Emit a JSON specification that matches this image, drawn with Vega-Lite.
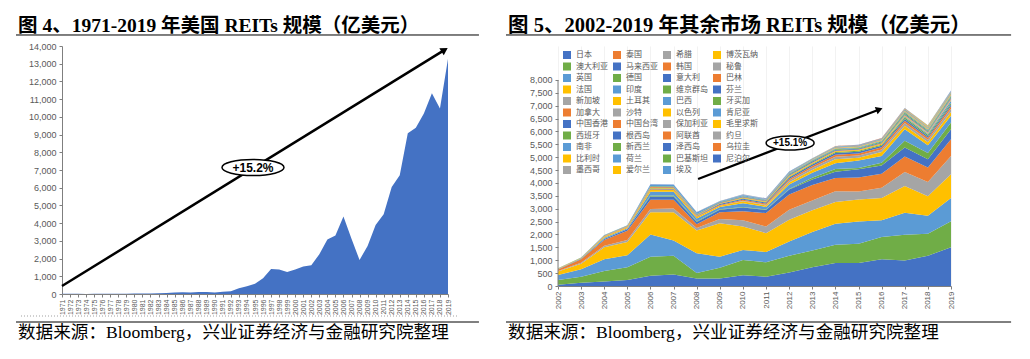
{
"$schema":"https://vega.github.io/schema/vega-lite/v6.json",
"background":"white",
"padding":{"left":15,"top":15,"right":0,"bottom":0},
"autosize":{"type":"pad"},
"config":{"view":{"stroke":null},"axis":{"labelFont":"Liberation Sans","labelColor":"#595959","domainColor":"#7f7f7f","tickColor":"#7f7f7f","grid":false,"title":null}},
"datasets":{
"us":[{"year":1971,"v":15},{"year":1972,"v":19},{"year":1973,"v":14},{"year":1974,"v":7},{"year":1975,"v":9},{"year":1976,"v":11},{"year":1977,"v":13},{"year":1978,"v":14},{"year":1979,"v":18},{"year":1980,"v":23},{"year":1981,"v":24},{"year":1982,"v":33},{"year":1983,"v":45},{"year":1984,"v":58},{"year":1985,"v":78},{"year":1986,"v":97},{"year":1987,"v":90},{"year":1988,"v":112},{"year":1989,"v":117},{"year":1990,"v":87},{"year":1991,"v":130},{"year":1992,"v":158},{"year":1993,"v":322},{"year":1994,"v":441},{"year":1995,"v":578},{"year":1996,"v":888},{"year":1997,"v":1407},{"year":1998,"v":1384},{"year":1999,"v":1243},{"year":2000,"v":1390},{"year":2001,"v":1547},{"year":2002,"v":1617},{"year":2003,"v":2245},{"year":2004,"v":3075},{"year":2005,"v":3309},{"year":2006,"v":4382},{"year":2007,"v":3120},{"year":2008,"v":1919},{"year":2009,"v":2713},{"year":2010,"v":3893},{"year":2011,"v":4508},{"year":2012,"v":6037},{"year":2013,"v":6707},{"year":2014,"v":9072},{"year":2015,"v":9390},{"year":2016,"v":10186},{"year":2017,"v":11336},{"year":2018,"v":10476},{"year":2019,"v":13285}],
"series":[{"c":"日本","k":0},{"c":"澳大利亚","k":1},{"c":"英国","k":2},{"c":"法国","k":3},{"c":"新加坡","k":4},{"c":"加拿大","k":5},{"c":"中国香港","k":6},{"c":"西班牙","k":7},{"c":"南非","k":8},{"c":"比利时","k":9},{"c":"墨西哥","k":10},{"c":"泰国","k":11},{"c":"马来西亚","k":12},{"c":"德国","k":13},{"c":"印度","k":14},{"c":"土耳其","k":15},{"c":"沙特","k":16},{"c":"中国台湾","k":17},{"c":"根西岛","k":18},{"c":"新西兰","k":19},{"c":"荷兰","k":20},{"c":"爱尔兰","k":21},{"c":"希腊","k":22},{"c":"韩国","k":23},{"c":"意大利","k":24},{"c":"维京群岛","k":25},{"c":"巴西","k":26},{"c":"以色列","k":27},{"c":"保加利亚","k":28},{"c":"阿联酋","k":29},{"c":"泽西岛","k":30},{"c":"巴基斯坦","k":31},{"c":"埃及","k":32},{"c":"博茨瓦纳","k":33},{"c":"秘鲁","k":34},{"c":"巴林","k":35},{"c":"芬兰","k":36},{"c":"牙买加","k":37},{"c":"肯尼亚","k":38},{"c":"毛里求斯","k":39},{"c":"约旦","k":40},{"c":"乌拉圭","k":41},{"c":"尼泊尔","k":42}],
"other":[
{"year":2002,"c":"日本","v":50},{"year":2003,"c":"日本","v":130},{"year":2004,"c":"日本","v":170},{"year":2005,"c":"日本","v":230},{"year":2006,"c":"日本","v":400},{"year":2007,"c":"日本","v":450},{"year":2008,"c":"日本","v":290},{"year":2009,"c":"日本","v":290},{"year":2010,"c":"日本","v":420},{"year":2011,"c":"日本","v":360},{"year":2012,"c":"日本","v":520},{"year":2013,"c":"日本","v":730},{"year":2014,"c":"日本","v":890},{"year":2015,"c":"日本","v":890},{"year":2016,"c":"日本","v":1040},{"year":2017,"c":"日本","v":990},{"year":2018,"c":"日本","v":1170},{"year":2019,"c":"日本","v":1500},
{"year":2002,"c":"澳大利亚","v":180},{"year":2003,"c":"澳大利亚","v":230},{"year":2004,"c":"澳大利亚","v":415},{"year":2005,"c":"澳大利亚","v":500},{"year":2006,"c":"澳大利亚","v":740},{"year":2007,"c":"澳大利亚","v":720},{"year":2008,"c":"澳大利亚","v":210},{"year":2009,"c":"澳大利亚","v":420},{"year":2010,"c":"澳大利亚","v":590},{"year":2011,"c":"澳大利亚","v":560},{"year":2012,"c":"澳大利亚","v":650},{"year":2013,"c":"澳大利亚","v":650},{"year":2014,"c":"澳大利亚","v":710},{"year":2015,"c":"澳大利亚","v":750},{"year":2016,"c":"澳大利亚","v":860},{"year":2017,"c":"澳大利亚","v":1000},{"year":2018,"c":"澳大利亚","v":860},{"year":2019,"c":"澳大利亚","v":1010},
{"year":2002,"c":"英国","v":200},{"year":2003,"c":"英国","v":290},{"year":2004,"c":"英国","v":455},{"year":2005,"c":"英国","v":460},{"year":2006,"c":"英国","v":860},{"year":2007,"c":"英国","v":600},{"year":2008,"c":"英国","v":770},{"year":2009,"c":"英国","v":430},{"year":2010,"c":"英国","v":390},{"year":2011,"c":"英国","v":400},{"year":2012,"c":"英国","v":560},{"year":2013,"c":"英国","v":720},{"year":2014,"c":"英国","v":820},{"year":2015,"c":"英国","v":860},{"year":2016,"c":"英国","v":650},{"year":2017,"c":"英国","v":850},{"year":2018,"c":"英国","v":700},{"year":2019,"c":"英国","v":910},
{"year":2002,"c":"法国","v":130},{"year":2003,"c":"法国","v":210},{"year":2004,"c":"法国","v":460},{"year":2005,"c":"法国","v":520},{"year":2006,"c":"法国","v":860},{"year":2007,"c":"法国","v":1090},{"year":2008,"c":"法国","v":890},{"year":2009,"c":"法国","v":1300},{"year":2010,"c":"法国","v":910},{"year":2011,"c":"法国","v":730},{"year":2012,"c":"法国","v":840},{"year":2013,"c":"法国","v":840},{"year":2014,"c":"法国","v":840},{"year":2015,"c":"法国","v":860},{"year":2016,"c":"法国","v":870},{"year":2017,"c":"法国","v":1040},{"year":2018,"c":"法国","v":760},{"year":2019,"c":"法国","v":920},
{"year":2002,"c":"新加坡","v":20},{"year":2003,"c":"新加坡","v":40},{"year":2004,"c":"新加坡","v":60},{"year":2005,"c":"新加坡","v":80},{"year":2006,"c":"新加坡","v":130},{"year":2007,"c":"新加坡","v":150},{"year":2008,"c":"新加坡","v":90},{"year":2009,"c":"新加坡","v":160},{"year":2010,"c":"新加坡","v":240},{"year":2011,"c":"新加坡","v":260},{"year":2012,"c":"新加坡","v":390},{"year":2013,"c":"新加坡","v":380},{"year":2014,"c":"新加坡","v":420},{"year":2015,"c":"新加坡","v":310},{"year":2016,"c":"新加坡","v":400},{"year":2017,"c":"新加坡","v":550},{"year":2018,"c":"新加坡","v":550},{"year":2019,"c":"新加坡","v":710},
{"year":2002,"c":"加拿大","v":60},{"year":2003,"c":"加拿大","v":140},{"year":2004,"c":"加拿大","v":230},{"year":2005,"c":"加拿大","v":360},{"year":2006,"c":"加拿大","v":360},{"year":2007,"c":"加拿大","v":340},{"year":2008,"c":"加拿大","v":150},{"year":2009,"c":"加拿大","v":260},{"year":2010,"c":"加拿大","v":350},{"year":2011,"c":"加拿大","v":520},{"year":2012,"c":"加拿大","v":590},{"year":2013,"c":"加拿大","v":600},{"year":2014,"c":"加拿大","v":510},{"year":2015,"c":"加拿大","v":540},{"year":2016,"c":"加拿大","v":540},{"year":2017,"c":"加拿大","v":600},{"year":2018,"c":"加拿大","v":560},{"year":2019,"c":"加拿大","v":650},
{"year":2002,"c":"中国香港","v":10},{"year":2003,"c":"中国香港","v":15},{"year":2004,"c":"中国香港","v":40},{"year":2005,"c":"中国香港","v":50},{"year":2006,"c":"中国香港","v":130},{"year":2007,"c":"中国香港","v":130},{"year":2008,"c":"中国香港","v":90},{"year":2009,"c":"中国香港","v":100},{"year":2010,"c":"中国香港","v":150},{"year":2011,"c":"中国香港","v":120},{"year":2012,"c":"中国香港","v":200},{"year":2013,"c":"中国香港","v":220},{"year":2014,"c":"中国香港","v":250},{"year":2015,"c":"中国香港","v":320},{"year":2016,"c":"中国香港","v":320},{"year":2017,"c":"中国香港","v":350},{"year":2018,"c":"中国香港","v":320},{"year":2019,"c":"中国香港","v":390},
{"year":2004,"c":"西班牙","v":5},{"year":2005,"c":"西班牙","v":5},{"year":2006,"c":"西班牙","v":30},{"year":2007,"c":"西班牙","v":30},{"year":2008,"c":"西班牙","v":20},{"year":2009,"c":"西班牙","v":20},{"year":2010,"c":"西班牙","v":20},{"year":2011,"c":"西班牙","v":20},{"year":2012,"c":"西班牙","v":20},{"year":2013,"c":"西班牙","v":60},{"year":2014,"c":"西班牙","v":100},{"year":2015,"c":"西班牙","v":50},{"year":2016,"c":"西班牙","v":110},{"year":2017,"c":"西班牙","v":260},{"year":2018,"c":"西班牙","v":240},{"year":2019,"c":"西班牙","v":260},
{"year":2002,"c":"南非","v":10},{"year":2003,"c":"南非","v":15},{"year":2004,"c":"南非","v":40},{"year":2005,"c":"南非","v":40},{"year":2006,"c":"南非","v":150},{"year":2007,"c":"南非","v":150},{"year":2008,"c":"南非","v":110},{"year":2009,"c":"南非","v":90},{"year":2010,"c":"南非","v":140},{"year":2011,"c":"南非","v":100},{"year":2012,"c":"南非","v":170},{"year":2013,"c":"南非","v":200},{"year":2014,"c":"南非","v":230},{"year":2015,"c":"南非","v":290},{"year":2016,"c":"南非","v":260},{"year":2017,"c":"南非","v":450},{"year":2018,"c":"南非","v":310},{"year":2019,"c":"南非","v":260},
{"year":2002,"c":"比利时","v":10},{"year":2003,"c":"比利时","v":15},{"year":2004,"c":"比利时","v":40},{"year":2005,"c":"比利时","v":40},{"year":2006,"c":"比利时","v":80},{"year":2007,"c":"比利时","v":70},{"year":2008,"c":"比利时","v":60},{"year":2009,"c":"比利时","v":50},{"year":2010,"c":"比利时","v":80},{"year":2011,"c":"比利时","v":60},{"year":2012,"c":"比利时","v":80},{"year":2013,"c":"比利时","v":100},{"year":2014,"c":"比利时","v":150},{"year":2015,"c":"比利时","v":110},{"year":2016,"c":"比利时","v":150},{"year":2017,"c":"比利时","v":130},{"year":2018,"c":"比利时","v":110},{"year":2019,"c":"比利时","v":150},
{"year":2010,"c":"墨西哥","v":20},{"year":2011,"c":"墨西哥","v":30},{"year":2012,"c":"墨西哥","v":80},{"year":2013,"c":"墨西哥","v":90},{"year":2014,"c":"墨西哥","v":100},{"year":2015,"c":"墨西哥","v":90},{"year":2016,"c":"墨西哥","v":100},{"year":2017,"c":"墨西哥","v":110},{"year":2018,"c":"墨西哥","v":100},{"year":2019,"c":"墨西哥","v":120},
{"year":2002,"c":"泰国","v":5},{"year":2003,"c":"泰国","v":5},{"year":2004,"c":"泰国","v":10},{"year":2005,"c":"泰国","v":15},{"year":2006,"c":"泰国","v":20},{"year":2007,"c":"泰国","v":20},{"year":2008,"c":"泰国","v":20},{"year":2009,"c":"泰国","v":30},{"year":2010,"c":"泰国","v":40},{"year":2011,"c":"泰国","v":40},{"year":2012,"c":"泰国","v":60},{"year":2013,"c":"泰国","v":70},{"year":2014,"c":"泰国","v":80},{"year":2015,"c":"泰国","v":80},{"year":2016,"c":"泰国","v":90},{"year":2017,"c":"泰国","v":90},{"year":2018,"c":"泰国","v":80},{"year":2019,"c":"泰国","v":100},
{"year":2002,"c":"马来西亚","v":5},{"year":2003,"c":"马来西亚","v":5},{"year":2004,"c":"马来西亚","v":10},{"year":2005,"c":"马来西亚","v":15},{"year":2006,"c":"马来西亚","v":20},{"year":2007,"c":"马来西亚","v":20},{"year":2008,"c":"马来西亚","v":20},{"year":2009,"c":"马来西亚","v":30},{"year":2010,"c":"马来西亚","v":40},{"year":2011,"c":"马来西亚","v":40},{"year":2012,"c":"马来西亚","v":50},{"year":2013,"c":"马来西亚","v":60},{"year":2014,"c":"马来西亚","v":60},{"year":2015,"c":"马来西亚","v":60},{"year":2016,"c":"马来西亚","v":60},{"year":2017,"c":"马来西亚","v":70},{"year":2018,"c":"马来西亚","v":60},{"year":2019,"c":"马来西亚","v":70},
{"year":2006,"c":"德国","v":20},{"year":2007,"c":"德国","v":20},{"year":2008,"c":"德国","v":10},{"year":2009,"c":"德国","v":10},{"year":2010,"c":"德国","v":20},{"year":2011,"c":"德国","v":20},{"year":2012,"c":"德国","v":30},{"year":2013,"c":"德国","v":30},{"year":2014,"c":"德国","v":40},{"year":2015,"c":"德国","v":40},{"year":2016,"c":"德国","v":40},{"year":2017,"c":"德国","v":50},{"year":2018,"c":"德国","v":50},{"year":2019,"c":"德国","v":60},
{"year":2017,"c":"印度","v":40},{"year":2018,"c":"印度","v":40},{"year":2019,"c":"印度","v":80},
{"year":2004,"c":"土耳其","v":5},{"year":2005,"c":"土耳其","v":5},{"year":2006,"c":"土耳其","v":20},{"year":2007,"c":"土耳其","v":20},{"year":2008,"c":"土耳其","v":10},{"year":2009,"c":"土耳其","v":10},{"year":2010,"c":"土耳其","v":20},{"year":2011,"c":"土耳其","v":20},{"year":2012,"c":"土耳其","v":30},{"year":2013,"c":"土耳其","v":30},{"year":2014,"c":"土耳其","v":30},{"year":2015,"c":"土耳其","v":30},{"year":2016,"c":"土耳其","v":30},{"year":2017,"c":"土耳其","v":30},{"year":2018,"c":"土耳其","v":20},{"year":2019,"c":"土耳其","v":20},
{"year":2017,"c":"沙特","v":10},{"year":2018,"c":"沙特","v":20},{"year":2019,"c":"沙特","v":40},
{"year":2004,"c":"中国台湾","v":10},{"year":2005,"c":"中国台湾","v":10},{"year":2006,"c":"中国台湾","v":20},{"year":2007,"c":"中国台湾","v":20},{"year":2008,"c":"中国台湾","v":20},{"year":2009,"c":"中国台湾","v":20},{"year":2010,"c":"中国台湾","v":20},{"year":2011,"c":"中国台湾","v":20},{"year":2012,"c":"中国台湾","v":20},{"year":2013,"c":"中国台湾","v":20},{"year":2014,"c":"中国台湾","v":20},{"year":2015,"c":"中国台湾","v":20},{"year":2016,"c":"中国台湾","v":20},{"year":2017,"c":"中国台湾","v":20},{"year":2018,"c":"中国台湾","v":20},{"year":2019,"c":"中国台湾","v":30},
{"year":2003,"c":"根西岛","v":5},{"year":2004,"c":"根西岛","v":10},{"year":2005,"c":"根西岛","v":10},{"year":2006,"c":"根西岛","v":20},{"year":2007,"c":"根西岛","v":20},{"year":2008,"c":"根西岛","v":20},{"year":2009,"c":"根西岛","v":20},{"year":2010,"c":"根西岛","v":20},{"year":2011,"c":"根西岛","v":20},{"year":2012,"c":"根西岛","v":30},{"year":2013,"c":"根西岛","v":30},{"year":2014,"c":"根西岛","v":30},{"year":2015,"c":"根西岛","v":30},{"year":2016,"c":"根西岛","v":30},{"year":2017,"c":"根西岛","v":40},{"year":2018,"c":"根西岛","v":30},{"year":2019,"c":"根西岛","v":40},
{"year":2002,"c":"新西兰","v":5},{"year":2003,"c":"新西兰","v":5},{"year":2004,"c":"新西兰","v":10},{"year":2005,"c":"新西兰","v":10},{"year":2006,"c":"新西兰","v":20},{"year":2007,"c":"新西兰","v":20},{"year":2008,"c":"新西兰","v":20},{"year":2009,"c":"新西兰","v":20},{"year":2010,"c":"新西兰","v":20},{"year":2011,"c":"新西兰","v":20},{"year":2012,"c":"新西兰","v":30},{"year":2013,"c":"新西兰","v":30},{"year":2014,"c":"新西兰","v":30},{"year":2015,"c":"新西兰","v":30},{"year":2016,"c":"新西兰","v":40},{"year":2017,"c":"新西兰","v":50},{"year":2018,"c":"新西兰","v":40},{"year":2019,"c":"新西兰","v":50},
{"year":2002,"c":"荷兰","v":5},{"year":2003,"c":"荷兰","v":5},{"year":2004,"c":"荷兰","v":10},{"year":2005,"c":"荷兰","v":10},{"year":2006,"c":"荷兰","v":60},{"year":2007,"c":"荷兰","v":60},{"year":2008,"c":"荷兰","v":50},{"year":2009,"c":"荷兰","v":20},{"year":2010,"c":"荷兰","v":30},{"year":2011,"c":"荷兰","v":20},{"year":2012,"c":"荷兰","v":30},{"year":2013,"c":"荷兰","v":30},{"year":2014,"c":"荷兰","v":30},{"year":2015,"c":"荷兰","v":30},{"year":2016,"c":"荷兰","v":30},{"year":2017,"c":"荷兰","v":40},{"year":2018,"c":"荷兰","v":40},{"year":2019,"c":"荷兰","v":40},
{"year":2013,"c":"爱尔兰","v":10},{"year":2014,"c":"爱尔兰","v":20},{"year":2015,"c":"爱尔兰","v":20},{"year":2016,"c":"爱尔兰","v":20},{"year":2017,"c":"爱尔兰","v":30},{"year":2018,"c":"爱尔兰","v":30},{"year":2019,"c":"爱尔兰","v":30},
{"year":2010,"c":"希腊","v":10},{"year":2011,"c":"希腊","v":10},{"year":2012,"c":"希腊","v":10},{"year":2013,"c":"希腊","v":10},{"year":2014,"c":"希腊","v":10},{"year":2015,"c":"希腊","v":10},{"year":2016,"c":"希腊","v":10},{"year":2017,"c":"希腊","v":10},{"year":2018,"c":"希腊","v":10},{"year":2019,"c":"希腊","v":10},
{"year":2006,"c":"韩国","v":5},{"year":2007,"c":"韩国","v":5},{"year":2008,"c":"韩国","v":5},{"year":2009,"c":"韩国","v":5},{"year":2010,"c":"韩国","v":5},{"year":2011,"c":"韩国","v":5},{"year":2012,"c":"韩国","v":10},{"year":2013,"c":"韩国","v":10},{"year":2014,"c":"韩国","v":10},{"year":2015,"c":"韩国","v":10},{"year":2016,"c":"韩国","v":10},{"year":2017,"c":"韩国","v":10},{"year":2018,"c":"韩国","v":10},{"year":2019,"c":"韩国","v":20},
{"year":2006,"c":"意大利","v":10},{"year":2007,"c":"意大利","v":10},{"year":2008,"c":"意大利","v":10},{"year":2009,"c":"意大利","v":10},{"year":2010,"c":"意大利","v":10},{"year":2011,"c":"意大利","v":10},{"year":2012,"c":"意大利","v":10},{"year":2013,"c":"意大利","v":10},{"year":2014,"c":"意大利","v":10},{"year":2015,"c":"意大利","v":10},{"year":2016,"c":"意大利","v":10},{"year":2017,"c":"意大利","v":10},{"year":2018,"c":"意大利","v":10},{"year":2019,"c":"意大利","v":10},
{"year":2012,"c":"维京群岛","v":10},{"year":2013,"c":"维京群岛","v":10},{"year":2014,"c":"维京群岛","v":10},{"year":2015,"c":"维京群岛","v":10},{"year":2016,"c":"维京群岛","v":10},{"year":2017,"c":"维京群岛","v":10},{"year":2018,"c":"维京群岛","v":10},{"year":2019,"c":"维京群岛","v":10},
{"year":2010,"c":"巴西","v":10},{"year":2011,"c":"巴西","v":10},{"year":2012,"c":"巴西","v":15},{"year":2013,"c":"巴西","v":15},{"year":2014,"c":"巴西","v":20},{"year":2015,"c":"巴西","v":15},{"year":2016,"c":"巴西","v":15},{"year":2017,"c":"巴西","v":20},{"year":2018,"c":"巴西","v":15},{"year":2019,"c":"巴西","v":20},
{"year":2017,"c":"以色列","v":10},{"year":2018,"c":"以色列","v":10},{"year":2019,"c":"以色列","v":10},
{"year":2008,"c":"保加利亚","v":5},{"year":2009,"c":"保加利亚","v":5},{"year":2010,"c":"保加利亚","v":5},{"year":2011,"c":"保加利亚","v":5},{"year":2012,"c":"保加利亚","v":5},{"year":2013,"c":"保加利亚","v":5},{"year":2014,"c":"保加利亚","v":5},{"year":2015,"c":"保加利亚","v":5},{"year":2016,"c":"保加利亚","v":5},{"year":2017,"c":"保加利亚","v":5},{"year":2018,"c":"保加利亚","v":5},{"year":2019,"c":"保加利亚","v":5},
{"year":2014,"c":"阿联酋","v":10},{"year":2015,"c":"阿联酋","v":10},{"year":2016,"c":"阿联酋","v":10},{"year":2017,"c":"阿联酋","v":10},{"year":2018,"c":"阿联酋","v":10},{"year":2019,"c":"阿联酋","v":10},
{"year":2010,"c":"泽西岛","v":5},{"year":2011,"c":"泽西岛","v":5},{"year":2012,"c":"泽西岛","v":5},{"year":2013,"c":"泽西岛","v":5},{"year":2014,"c":"泽西岛","v":5},{"year":2015,"c":"泽西岛","v":5},{"year":2016,"c":"泽西岛","v":5},{"year":2017,"c":"泽西岛","v":5},{"year":2018,"c":"泽西岛","v":5},{"year":2019,"c":"泽西岛","v":5},
{"year":2016,"c":"巴基斯坦","v":5},{"year":2017,"c":"巴基斯坦","v":5},{"year":2018,"c":"巴基斯坦","v":5},{"year":2019,"c":"巴基斯坦","v":5},
{"year":2018,"c":"埃及","v":5},{"year":2019,"c":"埃及","v":5},
{"year":2018,"c":"博茨瓦纳","v":5},{"year":2019,"c":"博茨瓦纳","v":5},
{"year":2018,"c":"秘鲁","v":5},{"year":2019,"c":"秘鲁","v":5},
{"year":2016,"c":"巴林","v":5},{"year":2017,"c":"巴林","v":5},{"year":2018,"c":"巴林","v":5},{"year":2019,"c":"巴林","v":5},
{"year":2017,"c":"芬兰","v":5},{"year":2018,"c":"芬兰","v":5},{"year":2019,"c":"芬兰","v":5},
{"year":2018,"c":"牙买加","v":5},{"year":2019,"c":"牙买加","v":5},
{"year":2017,"c":"肯尼亚","v":3},{"year":2018,"c":"肯尼亚","v":3},{"year":2019,"c":"肯尼亚","v":3},
{"year":2018,"c":"毛里求斯","v":3},{"year":2019,"c":"毛里求斯","v":3},
{"year":2018,"c":"约旦","v":3},{"year":2019,"c":"约旦","v":3},
{"year":2018,"c":"乌拉圭","v":3},{"year":2019,"c":"乌拉圭","v":3},
{"year":2018,"c":"尼泊尔","v":3},{"year":2019,"c":"尼泊尔","v":3}
]
},
"bounds":"flush",
"spacing":110,
"hconcat":[
{
"width":386,"height":248,
"resolve":{"axis":{"x":"independent","y":"independent"}},
"layer":[
{"data":{"name":"us"},"mark":{"type":"area","color":"#4472C4"},
"encoding":{
"x":{"field":"year","type":"quantitative","scale":{"domain":[1971,2019],"nice":false,"zero":false},"axis":{"values":[1971,1972,1973,1974,1975,1976,1977,1978,1979,1980,1981,1982,1983,1984,1985,1986,1987,1988,1989,1990,1991,1992,1993,1994,1995,1996,1997,1998,1999,2000,2001,2002,2003,2004,2005,2006,2007,2008,2009,2010,2011,2012,2013,2014,2015,2016,2017,2018,2019],"labelExpr":"format(datum.value, 'd')","labelAngle":-90,"labelFontSize":7,"labelOverlap":false,"labelFlush":false,"tickSize":3,"labelPadding":2}},
"y":{"field":"v","type":"quantitative","scale":{"domain":[0,14000],"nice":false},"axis":{"values":[0,1000,2000,3000,4000,5000,6000,7000,8000,9000,10000,11000,12000,13000,14000],"labelExpr":"format(datum.value, ',')","labelFontSize":9,"tickSize":3,"labelPadding":3}}
}},
{"data":{"values":[{}]},"layer":[
{"mark":{"type":"rule","strokeWidth":2.5,"color":"black"},"encoding":{"x":{"datum":1971,"type":"quantitative","axis":null},"y":{"datum":450,"type":"quantitative","axis":null},"x2":{"datum":2018.58},"y2":{"datum":13780}}},
{"mark":{"type":"point","shape":"triangle-up","filled":true,"color":"black","size":70,"angle":58.2,"opacity":1,"strokeWidth":0},"encoding":{"x":{"datum":2018.58,"type":"quantitative","axis":null},"y":{"datum":13780,"type":"quantitative","axis":null}}},
{"mark":{"type":"point","shape":"M -1 0 A 1 0.26 0 1 0 1 0 A 1 0.26 0 1 0 -1 0 Z","filled":true,"fill":"white","stroke":"black","strokeWidth":1.5,"size":3844,"opacity":1},"encoding":{"x":{"datum":1994.75,"type":"quantitative","axis":null},"y":{"datum":7140,"type":"quantitative","axis":null}}},
{"mark":{"type":"text","text":"+15.2%","font":"Liberation Sans","fontSize":12,"fontWeight":"bold","color":"black","align":"center","baseline":"middle"},"encoding":{"x":{"datum":1994.75,"type":"quantitative","axis":null},"y":{"datum":7140,"type":"quantitative","axis":null}}},
{"mark":{"type":"text","text":"图 4、1971-2019 年美国 REITs 规模（亿美元）","font":"Liberation Serif, Noto Sans CJK SC","fontSize":19.5,"fontWeight":"bold","color":"black","align":"left","baseline":"middle"},"encoding":{"x":{"datum":1965.53,"type":"quantitative","axis":null},"y":{"datum":15150,"type":"quantitative","axis":null}}},
{"mark":{"type":"rule","strokeWidth":1,"color":"black"},"encoding":{"x":{"datum":1965.28,"type":"quantitative","axis":null},"x2":{"datum":2022.85},"y":{"datum":14621,"type":"quantitative","axis":null}}},
{"mark":{"type":"rule","strokeWidth":1,"color":"#A0A0A0","strokeDash":[1,2]},"encoding":{"x":{"datum":1965.9,"type":"quantitative","axis":null},"x2":{"datum":2020.37},"y":{"datum":-1242,"type":"quantitative","axis":null}}},
{"mark":{"type":"rule","strokeWidth":1,"color":"black"},"encoding":{"x":{"datum":1965.28,"type":"quantitative","axis":null},"x2":{"datum":2022.85},"y":{"datum":-1581,"type":"quantitative","axis":null}}},
{"mark":{"type":"text","text":"数据来源：Bloomberg，兴业证券经济与金融研究院整理","font":"Liberation Serif, Noto Sans CJK SC","fontSize":17.6,"color":"black","align":"left","baseline":"middle"},"encoding":{"x":{"datum":1965.53,"type":"quantitative","axis":null},"y":{"datum":-2202,"type":"quantitative","axis":null}}}
]}
]
},
{
"width":393,"height":240,
"resolve":{"axis":{"x":"independent","y":"independent"}},
"layer":[
{"data":{"name":"other"},"transform":[{"lookup":"c","from":{"data":{"name":"series"},"key":"c","fields":["k"]}}],
"mark":{"type":"area"},
"encoding":{
"x":{"field":"year","type":"quantitative","scale":{"domain":[2002,2019],"nice":false,"zero":false},"axis":{"values":[2002,2003,2004,2005,2006,2007,2008,2009,2010,2011,2012,2013,2014,2015,2016,2017,2018,2019],"labelExpr":"format(datum.value, 'd')","labelAngle":-90,"labelFontSize":8,"labelOverlap":false,"labelFlush":false,"tickSize":3,"labelPadding":2,"grid":true,"gridColor":"#EDEDED","gridWidth":0.7}},
"y":{"field":"v","type":"quantitative","stack":"zero","scale":{"domain":[0,9320],"nice":false},"axis":{"values":[0,500,1000,1500,2000,2500,3000,3500,4000,4500,5000,5500,6000,6500,7000,7500,8000],"labelExpr":"format(datum.value, ',')","labelFontSize":9,"tickSize":3,"labelPadding":3,"domain":false}},
"color":{"field":"c","type":"nominal",
"scale":{"domain":["日本","澳大利亚","英国","法国","新加坡","加拿大","中国香港","西班牙","南非","比利时","墨西哥","泰国","马来西亚","德国","印度","土耳其","沙特","中国台湾","根西岛","新西兰","荷兰","爱尔兰","希腊","韩国","意大利","维京群岛","巴西","以色列","保加利亚","阿联酋","泽西岛","巴基斯坦","埃及","博茨瓦纳","秘鲁","巴林","芬兰","牙买加","肯尼亚","毛里求斯","约旦","乌拉圭","尼泊尔"],
"range":["#4472C4","#70AD47","#5B9BD5","#FFC000","#A5A5A5","#ED7D31","#4472C4","#70AD47","#5B9BD5","#FFC000","#A5A5A5","#ED7D31","#4472C4","#70AD47","#5B9BD5","#FFC000","#A5A5A5","#ED7D31","#4472C4","#70AD47","#5B9BD5","#FFC000","#A5A5A5","#ED7D31","#4472C4","#70AD47","#5B9BD5","#FFC000","#A5A5A5","#ED7D31","#4472C4","#70AD47","#5B9BD5","#FFC000","#A5A5A5","#ED7D31","#4472C4","#70AD47","#5B9BD5","#FFC000","#A5A5A5","#ED7D31","#4472C4"]},
"legend":{"orient":"none","legendX":501,"legendY":5,"columns":4,"symbolType":"square","symbolSize":64,"symbolStrokeWidth":0,"symbolLimit":60,"labelFont":"Noto Sans CJK SC","labelFontSize":8,"labelColor":"#595959","labelOffset":5,"columnPadding":5,"rowPadding":3.5,"title":null,"padding":0}},
"order":{"field":"k","type":"quantitative"}
}},
{"data":{"values":[{}]},"layer":[
{"mark":{"type":"rule","strokeWidth":1,"color":"#7f7f7f"},"encoding":{"x":{"datum":2002,"type":"quantitative","axis":null},"y":{"datum":0,"type":"quantitative","axis":null},"y2":{"datum":8000}}},
{"mark":{"type":"rule","strokeWidth":2.2,"color":"black"},"encoding":{"x":{"datum":2008.06,"type":"quantitative","axis":null},"y":{"datum":4155,"type":"quantitative","axis":null},"x2":{"datum":2015.9},"y2":{"datum":6857}}},
{"mark":{"type":"point","shape":"triangle-up","filled":true,"color":"black","size":60,"angle":69,"opacity":1,"strokeWidth":0},"encoding":{"x":{"datum":2015.9,"type":"quantitative","axis":null},"y":{"datum":6857,"type":"quantitative","axis":null}}},
{"mark":{"type":"point","shape":"M -1 0 A 1 0.29 0 1 0 1 0 A 1 0.29 0 1 0 -1 0 Z","filled":true,"fill":"white","stroke":"black","strokeWidth":1.5,"size":2304,"opacity":1},"encoding":{"x":{"datum":2012.04,"type":"quantitative","axis":null},"y":{"datum":5553,"type":"quantitative","axis":null}}},
{"mark":{"type":"text","text":"+15.1%","font":"Liberation Sans","fontSize":10,"fontWeight":"bold","color":"black","align":"center","baseline":"middle"},"encoding":{"x":{"datum":2012.04,"type":"quantitative","axis":null},"y":{"datum":5553,"type":"quantitative","axis":null}}},
{"mark":{"type":"text","text":"图 5、2002-2019 年其余市场 REITs 规模（亿美元）","font":"Liberation Serif, Noto Sans CJK SC","fontSize":20.5,"fontWeight":"bold","color":"black","align":"left","baseline":"middle"},"encoding":{"x":{"datum":1999.84,"type":"quantitative","axis":null},"y":{"datum":10100,"type":"quantitative","axis":null}}},
{"mark":{"type":"rule","strokeWidth":1,"color":"black"},"encoding":{"x":{"datum":1999.75,"type":"quantitative","axis":null},"x2":{"datum":2021.6},"y":{"datum":9748,"type":"quantitative","axis":null}}},
{"mark":{"type":"rule","strokeWidth":1,"color":"black"},"encoding":{"x":{"datum":1999.75,"type":"quantitative","axis":null},"x2":{"datum":2021.6},"y":{"datum":-1398,"type":"quantitative","axis":null}}},
{"mark":{"type":"text","text":"数据来源：Bloomberg，兴业证券经济与金融研究院整理","font":"Liberation Serif, Noto Sans CJK SC","fontSize":17.6,"color":"black","align":"left","baseline":"middle"},"encoding":{"x":{"datum":1999.84,"type":"quantitative","axis":null},"y":{"datum":-1825,"type":"quantitative","axis":null}}}
]}
]
}
]
}
